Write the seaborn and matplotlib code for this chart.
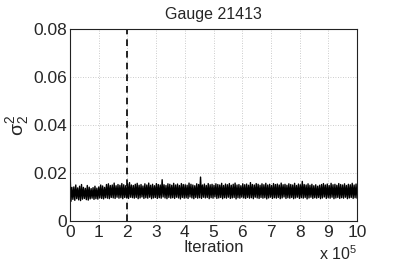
import numpy as np
import pandas as pd
import matplotlib
matplotlib.use("Agg")
import matplotlib.pyplot as plt
import seaborn as sns

# Trace envelope (units of 1e-4)
upper_e4 = [210, 140, 142, 150, 138, 145, 152, 140, 136, 148, 141, 135, 139, 145, 137, 142, 150, 146, 140, 152,
            155, 148, 150, 158, 147, 152, 149, 156, 151, 147, 155, 160, 150, 148, 153, 157, 149, 152, 146, 155,
            150, 158, 149, 153, 147, 156, 152, 150, 172, 151, 148, 155, 153, 149, 157, 150, 154, 148, 156, 152,
            151, 149, 158, 153, 150, 147, 155, 152, 183, 150, 154, 148, 156, 151, 153, 149, 155, 152, 150, 157,
            148, 154, 151, 156, 149, 153, 158, 150, 152, 147, 155, 151, 154, 149, 160, 152, 150, 156, 153, 149,
            155, 151, 157, 150, 153, 148, 156, 152, 154, 150, 158, 151, 153, 149, 155, 152, 150, 157, 148, 154,
            151, 165, 152, 150, 155, 149, 153, 147, 151, 145, 149, 152, 156, 150, 154, 148, 157, 151, 153, 149,
            156, 152, 150, 155, 148, 153, 151, 157, 150, 154]
lower_e4 = [82, 90, 86, 93, 88, 85, 91, 94, 89, 87, 92, 95, 90, 93, 91, 96, 94, 92, 97, 95,
            93, 98, 96, 94, 99, 95, 97, 93, 98, 96, 94, 99, 97, 95, 98, 93, 96, 100, 94, 97,
            95, 99, 93, 96, 98, 94, 97, 95, 100, 96, 93, 98, 95, 97, 94, 99, 96, 92, 98, 95,
            97, 94, 100, 96, 93, 98, 95, 97, 94, 99, 96, 98, 93, 97, 95, 100, 94, 96, 98, 93,
            97, 95, 99, 94, 96, 98, 92, 97, 95, 99, 96, 94, 98, 95, 97, 93, 99, 96, 94, 98,
            95, 97, 92, 96, 99, 94, 97, 95, 98, 93, 96, 100, 94, 97, 95, 98, 93, 96, 99, 94,
            97, 95, 98, 92, 96, 99, 94, 97, 95, 98, 93, 96, 100, 94, 97, 95, 99, 93, 96, 98,
            94, 97, 95, 99, 93, 96, 98, 94, 97, 95]
burn_in = 2.0  # x 10^5
x_ticks = [0, 1, 2, 3, 4, 5, 6, 7, 8, 9, 10]
y_ticks = [0, 0.02, 0.04, 0.06, 0.08]
y_tick_labels = ["0", "0.02", "0.04", "0.06", "0.08"]
title = "Gauge 21413"

n = min(len(upper_e4), len(lower_e4))
vals = []
for u, l in zip(upper_e4[:n], lower_e4[:n]):
    vals.append(u * 1e-4)
    vals.append(l * 1e-4)
iters = np.linspace(0, 10, len(vals))
df = pd.DataFrame({"iter": iters, "sigma": vals})

sns.set_style("white")
plt.rcParams["font.family"] = ["Liberation Sans", "DejaVu Sans"]
plt.rcParams["mathtext.fontset"] = "custom"
plt.rcParams["mathtext.rm"] = "Liberation Sans"
plt.rcParams["mathtext.it"] = "Liberation Sans"

fig = plt.figure(figsize=(3.95, 2.63), dpi=100)
ax = fig.add_axes([70 / 395, 1 - 221 / 263, 287 / 395, 192 / 263])

sns.lineplot(data=df, x="iter", y="sigma", ax=ax, color="black", linewidth=1.0, estimator=None, sort=False)
ax.axvline(burn_in, color="black", linestyle=(0, (4, 3)), linewidth=1.2)

ax.set_xlim(0, 10)
ax.set_ylim(0, 0.08)
ax.set_xticks(x_ticks)
ax.set_xticklabels([str(t) for t in x_ticks], fontsize=12.5)
ax.set_yticks(y_ticks)
ax.set_yticklabels(y_tick_labels, fontsize=12.5)
ax.tick_params(direction="in", length=3, width=0.6)
ax.tick_params(axis="x", pad=3)
ax.tick_params(axis="y", pad=2)
ax.grid(True, linestyle=(0, (1, 2)), color="#bbbbbb", linewidth=0.6)
for s in ax.spines.values():
    s.set_color("#222222")
    s.set_linewidth(0.8)

ax.set_title(title, fontsize=11.5, pad=7)
ax.set_xlabel("Iteration", fontsize=12, labelpad=0)
ax.set_ylabel(r"$\sigma_2^2$", fontsize=14, labelpad=2)
fig.text(319 / 395, 1 - 260 / 263, r"x 10$^5$", fontsize=11.5, va="baseline")

fig.savefig("out.png", dpi=100)
